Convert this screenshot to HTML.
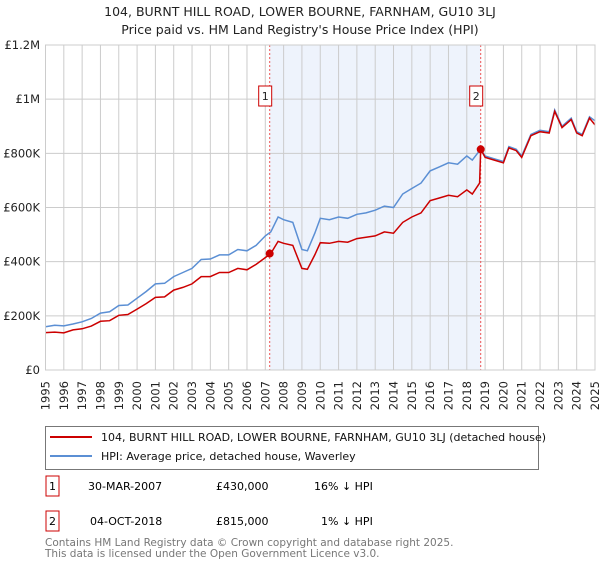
<!DOCTYPE html>
<html><head><meta charset="utf-8"><style>
body{margin:0;background:#fff;font-family:"Liberation Sans","DejaVu Sans",sans-serif;}
svg text{font-family:"DejaVu Sans","Liberation Sans",sans-serif;}
</style></head><body>
<svg id="c" width="600" height="560" viewBox="0 0 600 560">
<text x="300" y="16" text-anchor="middle" font-size="12.5" fill="#222">104, BURNT HILL ROAD, LOWER BOURNE, FARNHAM, GU10 3LJ</text>
<text x="300" y="34" text-anchor="middle" font-size="12.5" fill="#222">Price paid vs. HM Land Registry's House Price Index (HPI)</text>
<g id="plot"></g>
<rect x="45.5" y="426.5" width="493" height="43" fill="#fff" stroke="#777"/>
<line x1="50" y1="437" x2="92" y2="437" stroke="#cc0000" stroke-width="2"/>
<text x="101" y="441" font-size="11" fill="#111">104, BURNT HILL ROAD, LOWER BOURNE, FARNHAM, GU10 3LJ (detached house)</text>
<line x1="50" y1="456" x2="92" y2="456" stroke="#5b8fd4" stroke-width="2"/>
<text x="101" y="460" font-size="11" fill="#111">HPI: Average price, detached house, Waverley</text>
<g>
<rect x="46" y="476" width="13" height="20" fill="#fff" stroke="#cc0000"/>
<text x="52.5" y="490" text-anchor="middle" font-size="11">1</text>
<text x="88" y="490" font-size="11">30-MAR-2007</text>
<text x="216" y="490" font-size="11">£430,000</text>
<text x="314" y="490" font-size="11">16% ↓ HPI</text></g>
<g>
<rect x="46" y="511" width="13" height="20" fill="#fff" stroke="#cc0000"/>
<text x="52.5" y="525" text-anchor="middle" font-size="11">2</text>
<text x="90" y="525" font-size="11">04-OCT-2018</text>
<text x="216" y="525" font-size="11">£815,000</text>
<text x="321" y="525" font-size="11">1% ↓ HPI</text></g>
<text x="45" y="546" font-size="10.5" fill="#777">Contains HM Land Registry data © Crown copyright and database right 2025.</text>
<text x="45" y="557" font-size="10.5" fill="#777">This data is licensed under the Open Government Licence v3.0.</text>
</svg>
<script>
const times=[1995,1995.5,1996,1996.5,1997,1997.5,1998,1998.5,1999,1999.5,2000,2000.5,2001,2001.5,2002,2002.5,2003,2003.5,2004,2004.5,2005,2005.5,2006,2006.5,2007,2007.3,2007.7,2008,2008.5,2009,2009.3,2009.7,2010,2010.5,2011,2011.5,2012,2012.5,2013,2013.5,2014,2014.5,2015,2015.5,2016,2016.5,2017,2017.5,2018,2018.3,2018.7,2018.76,2019,2019.5,2020,2020.3,2020.7,2021,2021.5,2022,2022.5,2022.8,2023.2,2023.7,2024,2024.3,2024.7,2025];
const hpi=[160,165,163,170,178,190,210,215,238,240,265,290,318,320,345,360,375,408,410,425,425,445,440,460,495,510,565,555,545,445,440,505,560,555,565,560,575,580,590,605,600,650,670,690,735,750,765,760,790,775,810,815,790,780,770,825,815,790,870,885,880,960,900,930,880,870,935,920];
const price=[138,140,137,148,152,162,180,182,202,205,225,245,268,270,295,305,318,345,345,360,360,375,370,390,415,430,475,468,460,375,372,425,470,468,475,472,485,490,495,510,505,545,565,580,625,635,645,640,665,650,690,815,785,775,765,820,810,785,865,880,875,955,895,925,875,865,930,905];
const yTicks=[0,200,400,600,800,1000,1200];
const yLabels=["£0","£200K","£400K","£600K","£800K","£1M","£1.2M"];
const years=[1995,1996,1997,1998,1999,2000,2001,2002,2003,2004,2005,2006,2007,2008,2009,2010,2011,2012,2013,2014,2015,2016,2017,2018,2019,2020,2021,2022,2023,2024,2025];
const sales=[[2007.24,430],[2018.76,815]];
const X0=45.5,X1=595,Y0=370,Y1=45;
const x=t=>X0+(t-1995)/30*(X1-X0);
const y=v=>Y0-v/1200*(Y0-Y1);
const g=document.getElementById('plot');const NS='http://www.w3.org/2000/svg';
function mk(tag,a){const e=document.createElementNS(NS,tag);for(const k in a)e.setAttribute(k,a[k]);g.appendChild(e);return e;}
let e=mk('rect',{x:x(sales[0][0]),y:Y1,width:x(sales[1][0])-x(sales[0][0]),height:Y0-Y1,fill:'#eef3fc'});


years.forEach(yr=>{
 const l=mk('line',{x1:x(yr),x2:x(yr),y1:Y1,y2:Y0,stroke:'#ccc','stroke-width':1});
 
 
 const t=mk('text',{x:0,y:0,'text-anchor':'end','font-size':11.5,fill:'#222',transform:`translate(${x(yr)+4},381) rotate(-90)`});t.textContent=yr;
 
 
});
yTicks.forEach((v,i)=>{
 const l=mk('line',{x1:X0,x2:X1,y1:y(v),y2:y(v),stroke:'#ccc','stroke-width':1});
 
 
 const t=mk('text',{x:40,y:y(v)+4,'text-anchor':'end','font-size':11.5,fill:'#222'});t.textContent=yLabels[i];
 
 
});
sales.forEach((s,i)=>{
 const l=mk('line',{x1:x(s[0]),x2:x(s[0]),y1:Y1,y2:Y0,stroke:'#e55','stroke-width':1,'stroke-dasharray':'2,2'});
 
 
});
const pts=a=>a.map((v,i)=>x(times[i]).toFixed(1)+','+y(v).toFixed(1)).join(' ');
e=mk('polyline',{points:pts(hpi),fill:'none',stroke:'#5b8fd4','stroke-width':1.5});


e=mk('polyline',{points:pts(price),fill:'none',stroke:'#cc0000','stroke-width':1.5});


sales.forEach((s,i)=>{
 const c=mk('circle',{cx:x(s[0]),cy:y(s[1]),r:4,fill:'#cc0000'});
 
 
 const b=mk('rect',{x:x(s[0])-11,y:86,width:13,height:20,fill:'#fff',stroke:'#cc0000'});
 
 
 const t=mk('text',{x:x(s[0])-4.5,y:100,'text-anchor':'middle','font-size':11,fill:'#222'});t.textContent=i+1;
 
 
});
e=mk('rect',{x:X0,y:Y1,width:X1-X0,height:Y0-Y1,fill:'none',stroke:'#ccc'});


</script>
</body></html>
